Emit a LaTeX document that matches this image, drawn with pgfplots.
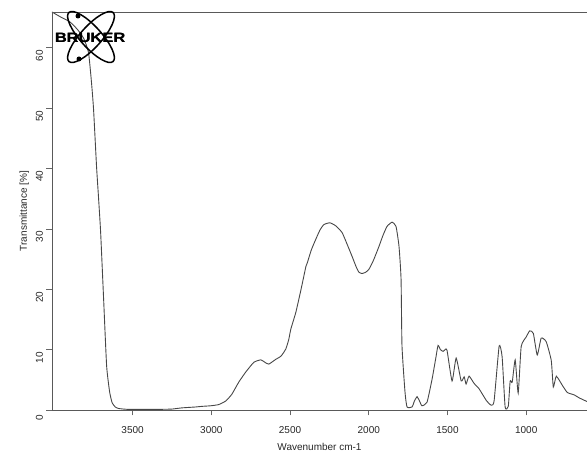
\documentclass[border=0pt]{standalone}
\usepackage{pgfplots}
\pgfplotsset{compat=1.18}
\usepackage{fontspec}
\setmainfont{Liberation Sans}
\usetikzlibrary{calc}
\begin{document}
\begin{tikzpicture}
\begin{axis}[
  scale only axis, width=535pt, height=398pt,
  x dir=reverse, xmin=614, xmax=4012, ymin=0, ymax=65.9,
  xtick={1000,1500,2000,2500,3000,3500}, ytick={0,10,20,30,40,50,60},
  /pgf/number format/1000 sep={},
  /pgf/number format/assume math mode=true,
  tick align=outside, xtick pos=left, ytick pos=left,
  major tick length=5.5pt,
  tick style={black!60, line width=0.6pt},
  axis line style={draw=none},
  clip mode=individual,
  every tick label/.append style={font=\fontsize{10}{12}\selectfont, text=black!85},
  yticklabel style={rotate=90, anchor=south, xshift=-8pt},
  xticklabel style={yshift=-7pt},
  xlabel={Wavenumber cm-1}, ylabel={Transmittance [\%]},
  every axis label/.append style={font=\fontsize{10}{12}\selectfont, text=black!85},
  xlabel style={yshift=-3pt},
]
\addplot[black!72, line width=0.9pt, smooth, tension=0.3] coordinates {
(4012,65.9) (3952,65.0) (3900,64.3) (3850,63.0) (3810,61.5) (3780,59.2)
(3761,54.2) (3748,49.8) (3729,40.3) (3716,35) (3703,29.4) (3684,18.3)
(3665,7.3) (3646,3.0) (3630,1.2) (3610,0.5) (3589,0.25) (3526,0.1)
(3354,0.1) (3252,0.15) (3188,0.35) (3100,0.5) (3061,0.6) (3004,0.7)
(2953,0.9) (2908,1.5) (2870,2.6) (2826,4.6) (2781,6.3) (2730,7.9)
(2686,8.3) (2660,7.9) (2635,7.6) (2590,8.4) (2558,8.9) (2527,10.1)
(2508,11.7) (2495,13.4) (2463,16.2) (2430,20.0) (2399,23.8) (2390,24.4)
(2365,26.5) (2336,28.3) (2310,29.8) (2285,30.7) (2247,31.0) (2210,30.5)
(2170,29.4) (2140,27.6) (2107,25.5) (2080,23.7) (2062,22.8) (2043,22.6)
(2020,22.8) (1999,23.3) (1970,24.8) (1935,27.1) (1910,28.9) (1884,30.4)
(1852,31.1) (1827,30.4) (1808,27.1) (1795,21.7) (1789,10.6) (1770,3.0)
(1757,0.5) (1725,0.5) (1710,1.5) (1693,2.2) (1678,1.5) (1662,0.7)
(1630,1.3) (1598,5.1) (1575,8.5) (1560,10.7) (1545,10.0) (1528,9.7)
(1515,10.0) (1503,9.9) (1471,4.8) (1445,8.6) (1413,4.8) (1394,5.5)
(1382,4.3) (1363,5.6) (1331,4.4) (1299,3.5) (1254,1.6) (1223,0.8)
(1204,1.5) (1172,10.6) (1153,8.8) (1134,0.5) (1114,0.6) (1102,4.8)
(1089,4.6) (1070,8.3) (1051,2.8) (1032,10.5) (1000,12.1) (978,13.1)
(955,12.7) (930,9.1) (905,11.9) (873,11.3) (841,8.2) (828,3.8)
(809,5.6) (771,4.1) (739,2.9) (695,2.5) (663,2.0) (614,1.4)
};
\coordinate (bl) at (axis cs:4012,0);
\coordinate (tl) at (axis cs:4012,65.9);
\coordinate (tr) at (axis cs:614,65.9);
\coordinate (br) at (axis cs:614,0);
\end{axis}
\draw[black!65, line width=0.8pt] (br) -- (bl) -- (tl) -- (tr);
\begin{scope}[shift={(tl)}]
  \draw[black, line width=1.5pt] (39pt,-25pt) ellipse [x radius=33pt, y radius=10.5pt, rotate=48];
  \draw[black, line width=1.5pt] (39pt,-25pt) ellipse [x radius=33pt, y radius=10.5pt, rotate=-48];
  \fill[black] (26pt,-4pt) circle (2.5pt);
  \fill[black] (27pt,-47pt) circle (2.5pt);
  \node[font=\fontsize{13.5}{14}\selectfont\bfseries, xscale=1.22, inner sep=0pt] at (38pt,-26pt) {BRUKER};
  \node[font=\fontsize{13.5}{14}\selectfont\bfseries, xscale=1.22, inner sep=0pt] at (38.3pt,-26pt) {BRUKER};
\end{scope}
\pgfresetboundingbox
\path ($(bl)+(-52pt,-45pt)$) rectangle ($(tr)+(0pt,12pt)$);
\end{tikzpicture}
\end{document}
